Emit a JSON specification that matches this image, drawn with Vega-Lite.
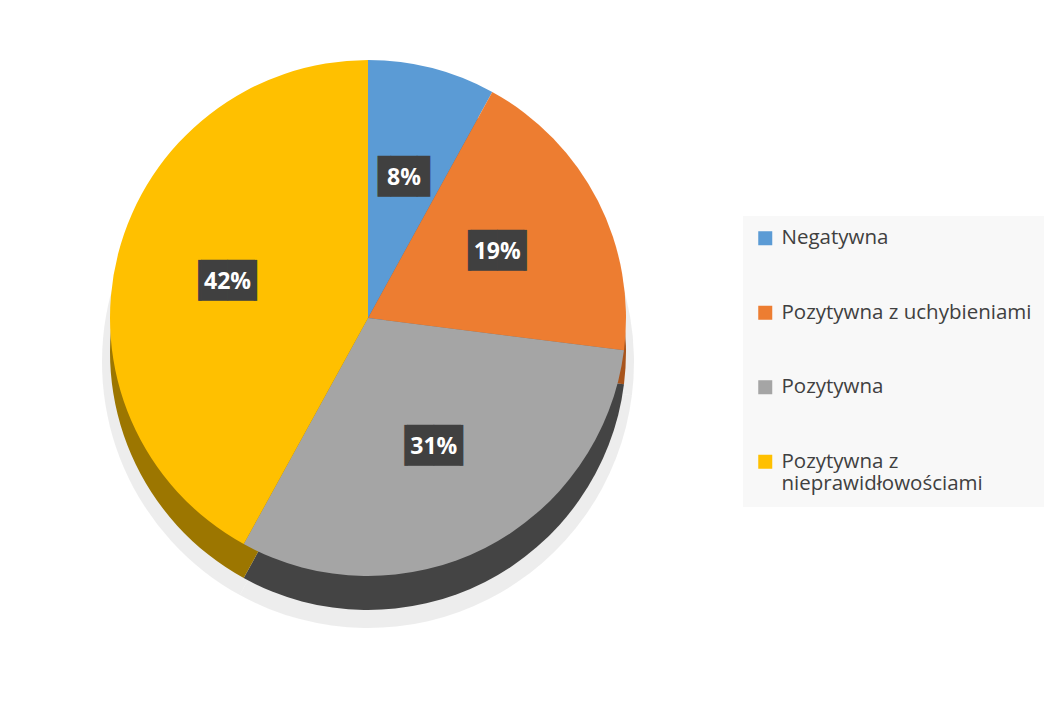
{
  "$schema": "https://vega.github.io/schema/vega-lite/v6.json",
  "width": 722,
  "height": 618,
  "autosize": {"type": "none"},
  "padding": {"left": 7, "top": 9, "right": 315, "bottom": 86},
  "background": "white",
  "config": {"view": {"stroke": null}},
  "data": {
    "values": [
      {"lp": 1, "kategoria": "Negatywna", "udzial": 0.08},
      {"lp": 2, "kategoria": "Pozytywna z uchybieniami", "udzial": 0.19},
      {"lp": 3, "kategoria": "Pozytywna", "udzial": 0.31},
      {"lp": 4, "kategoria": "Pozytywna z nieprawidłowościami", "udzial": 0.42}
    ]
  },
  "encoding": {
    "theta": {"field": "udzial", "type": "quantitative", "stack": true},
    "order": {"field": "lp", "type": "quantitative"}
  },
  "layer": [
    {
      "mark": {"type": "arc", "outerRadius": 266, "yOffset": 44, "fill": "#E9E9E9", "opacity": 0.8},
      "encoding": {}
    },
    {
      "mark": {"type": "arc", "outerRadius": 258, "yOffset": 34},
      "encoding": {
        "color": {
          "field": "kategoria",
          "type": "nominal",
          "scale": {
            "domain": ["Negatywna", "Pozytywna z uchybieniami", "Pozytywna", "Pozytywna z nieprawidłowościami"],
            "range": ["#2F6EA8", "#A8541C", "#444444", "#9C7600"]
          },
          "legend": null
        }
      }
    },
    {
      "mark": {"type": "arc", "outerRadius": 258},
      "encoding": {
        "color": {
          "field": "kategoria",
          "type": "nominal",
          "scale": {
            "domain": ["Negatywna", "Pozytywna z uchybieniami", "Pozytywna", "Pozytywna z nieprawidłowościami"],
            "range": ["#5B9BD5", "#ED7D31", "#A5A5A5", "#FFC000"]
          },
          "legend": {
            "title": null,
            "orient": "none",
            "legendX": 736,
            "legendY": 207,
            "fillColor": "#F8F8F8",
            "padding": 12,
            "symbolType": "square",
            "symbolSize": 196,
            "symbolStrokeWidth": 0,
            "labelFont": "Open Sans",
            "labelFontSize": 20.5,
            "labelColor": "#404040",
            "labelOffset": 6,
            "labelLimit": 400,
            "rowPadding": 53.5,
            "labelExpr": "datum.label == 'Pozytywna z nieprawidłowościami' ? ['Pozytywna z', 'nieprawidłowościami'] : datum.label"
          }
        }
      }
    },
    {
      "mark": {"type": "text", "radius": 145, "font": "DejaVu Sans", "fontSize": 34.5, "color": "#404040", "baseline": "middle", "align": "center"},
      "encoding": {
        "text": {"condition": {"test": "datum.udzial < 0.1", "value": "▐█▌"}, "value": "▕██▏"}
      }
    },
    {
      "mark": {"type": "text", "radius": 145, "font": "Open Sans", "fontWeight": "bold", "fontSize": 23, "color": "white", "baseline": "middle", "align": "center"},
      "encoding": {
        "text": {"field": "udzial", "type": "quantitative", "format": ".0%"}
      }
    }
  ],
  "resolve": {"scale": {"color": "independent"}, "legend": {"color": "independent"}}
}
